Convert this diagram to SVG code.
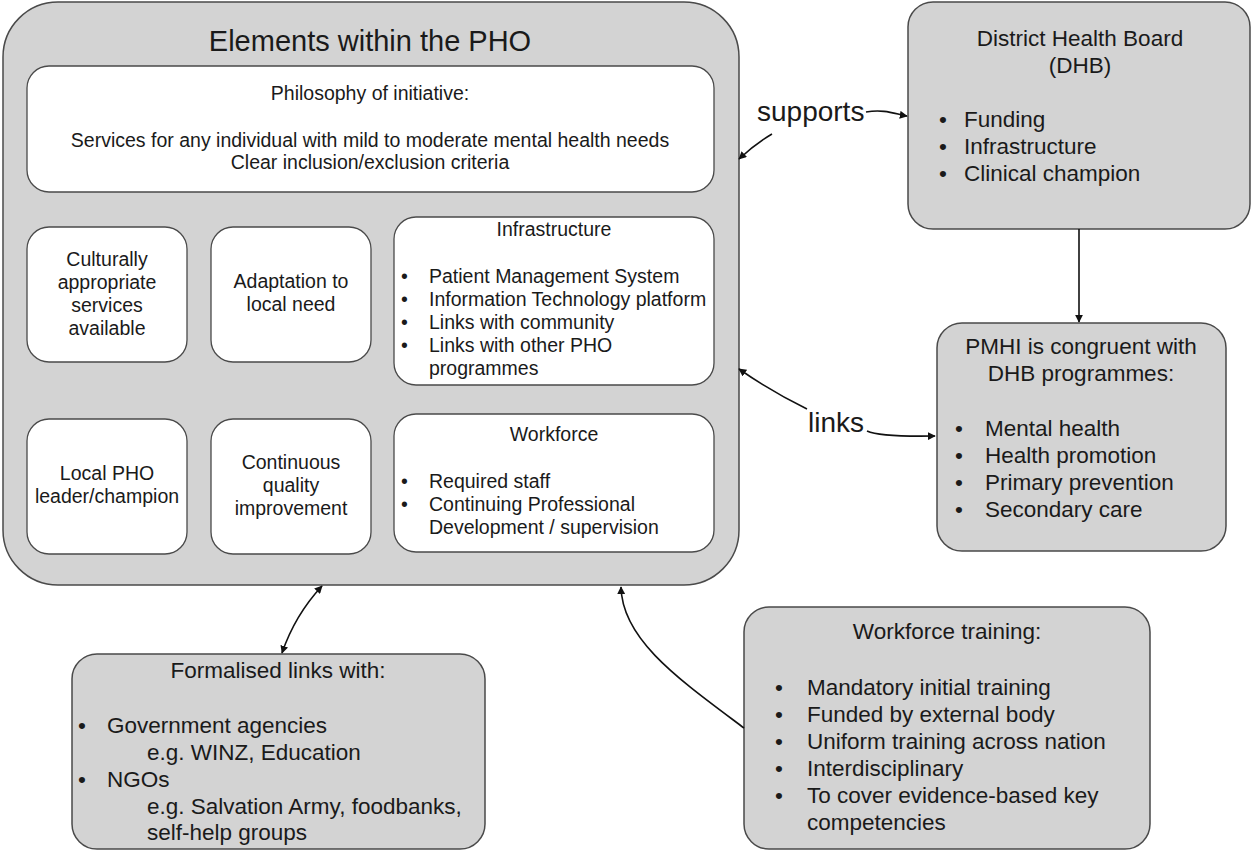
<svg xmlns="http://www.w3.org/2000/svg" width="1253" height="853" viewBox="0 0 1253 853">
<defs>
<style>
.outer{fill:#d3d3d3;stroke:#4a4a4a;stroke-width:1.5}
.inner{fill:#fff;stroke:#4a4a4a;stroke-width:1.3}
text{font-family:"Liberation Sans",Arial,sans-serif;fill:#1a1a1a}
.c{text-anchor:middle}
.t19{font-size:19.5px}
.t22{font-size:22.5px}
.lbl{font-size:28px}
.conn{fill:none;stroke:#111;stroke-width:1.6}
</style>
<marker id="ah" viewBox="0 0 10 10" refX="9" refY="5" markerWidth="8" markerHeight="8" orient="auto-start-reverse" markerUnits="userSpaceOnUse">
<path d="M0,0 L10,5 L0,10 z" fill="#111"/>
</marker>
</defs>
<rect width="1253" height="853" fill="#fff"/>

<g id="pho">
<rect class="outer" x="3" y="2" width="736" height="583" rx="55"/>
<text class="c" x="370" y="51" style="font-size:29px">Elements within the PHO</text>
</g>

<g id="philosophy">
<rect class="inner" x="27" y="66" width="687" height="126" rx="22"/>
<text class="c t19" x="370" y="100">Philosophy of initiative:</text>
<text class="c t19" x="370" y="147">Services for any individual with mild to moderate mental health needs</text>
<text class="c t19" x="370" y="169">Clear inclusion/exclusion criteria</text>
</g>

<g id="cultural">
<rect class="inner" x="27" y="227" width="160" height="135" rx="22"/>
<text class="c t19" x="107" y="266">Culturally</text>
<text class="c t19" x="107" y="289">appropriate</text>
<text class="c t19" x="107" y="312">services</text>
<text class="c t19" x="107" y="335">available</text>
</g>

<g id="adaptation">
<rect class="inner" x="211" y="227" width="160" height="135" rx="22"/>
<text class="c t19" x="291" y="288">Adaptation to</text>
<text class="c t19" x="291" y="311">local need</text>
</g>

<g id="infrastructure">
<rect class="inner" x="394" y="217" width="320" height="168" rx="22"/>
<text class="c t19" x="554" y="236">Infrastructure</text>
<g class="t19">
<text x="401" y="283">•</text><text x="429" y="283">Patient Management System</text>
<text x="401" y="306">•</text><text x="429" y="306">Information Technology platform</text>
<text x="401" y="329">•</text><text x="429" y="329">Links with community</text>
<text x="401" y="352">•</text><text x="429" y="352">Links with other PHO</text>
<text x="429" y="375">programmes</text>
</g>
</g>

<g id="localpho">
<rect class="inner" x="27" y="419" width="160" height="135" rx="22"/>
<text class="c t19" x="107" y="480">Local PHO</text>
<text class="c t19" x="107" y="503">leader/champion</text>
</g>

<g id="quality">
<rect class="inner" x="211" y="419" width="160" height="135" rx="22"/>
<text class="c t19" x="291" y="469">Continuous</text>
<text class="c t19" x="291" y="492">quality</text>
<text class="c t19" x="291" y="515">improvement</text>
</g>

<g id="workforce">
<rect class="inner" x="394" y="414" width="320" height="138" rx="22"/>
<text class="c t19" x="554" y="441">Workforce</text>
<g class="t19">
<text x="401" y="488">•</text><text x="429" y="488">Required staff</text>
<text x="401" y="511">•</text><text x="429" y="511">Continuing Professional</text>
<text x="429" y="534">Development / supervision</text>
</g>
</g>

<g id="dhb">
<rect class="outer" x="908" y="2" width="342" height="227" rx="25"/>
<text class="c t22" x="1080" y="46">District Health Board</text>
<text class="c t22" x="1080" y="73">(DHB)</text>
<g class="t22">
<text x="939" y="127">•</text><text x="964" y="127">Funding</text>
<text x="939" y="154">•</text><text x="964" y="154">Infrastructure</text>
<text x="939" y="181">•</text><text x="964" y="181">Clinical champion</text>
</g>
</g>

<g id="pmhi">
<rect class="outer" x="937" y="323" width="289" height="228" rx="25"/>
<text class="c t22" x="1081" y="354">PMHI is congruent with</text>
<text class="c t22" x="1081" y="381">DHB programmes:</text>
<g class="t22">
<text x="955" y="436">•</text><text x="985" y="436">Mental health</text>
<text x="955" y="463">•</text><text x="985" y="463">Health promotion</text>
<text x="955" y="490">•</text><text x="985" y="490">Primary prevention</text>
<text x="955" y="517">•</text><text x="985" y="517">Secondary care</text>
</g>
</g>

<g id="formalised">
<rect class="outer" x="72" y="654" width="413" height="195" rx="25"/>
<text class="c t22" x="278" y="678">Formalised links with:</text>
<g class="t22">
<text x="78" y="733">•</text><text x="107" y="733">Government agencies</text>
<text x="147" y="760">e.g. WINZ, Education</text>
<text x="78" y="787">•</text><text x="107" y="787">NGOs</text>
<text x="147" y="814">e.g. Salvation Army, foodbanks,</text>
<text x="147" y="840">self-help groups</text>
</g>
</g>

<g id="training">
<rect class="outer" x="744" y="607" width="406" height="242" rx="25"/>
<text class="c t22" x="947" y="639">Workforce training:</text>
<g class="t22">
<text x="775" y="695">•</text><text x="807" y="695">Mandatory initial training</text>
<text x="775" y="722">•</text><text x="807" y="722">Funded by external body</text>
<text x="775" y="749">•</text><text x="807" y="749">Uniform training across nation</text>
<text x="775" y="776">•</text><text x="807" y="776">Interdisciplinary</text>
<text x="775" y="803">•</text><text x="807" y="803">To cover evidence-based key</text>
<text x="807" y="830">competencies</text>
</g>
</g>

<g id="connectors">
<text class="lbl" x="757" y="121">supports</text>
<path class="conn" d="M866,112 C885,109 895,114 907,116" marker-end="url(#ah)"/>
<path class="conn" d="M772,134 Q755,144 739,159" marker-end="url(#ah)"/>
<path class="conn" d="M1079,229 L1079,322" marker-end="url(#ah)"/>
<text class="lbl" x="808" y="432">links</text>
<path class="conn" d="M807,409 Q772,392 739,369" marker-end="url(#ah)"/>
<path class="conn" d="M867,431 Q880,437 935,436" marker-end="url(#ah)"/>
<path class="conn" d="M282,653 Q295,615 322,586" marker-start="url(#ah)" marker-end="url(#ah)"/>
<path class="conn" d="M744,728 C680,680 622,640 621,587" marker-end="url(#ah)"/>
</g>
</svg>
